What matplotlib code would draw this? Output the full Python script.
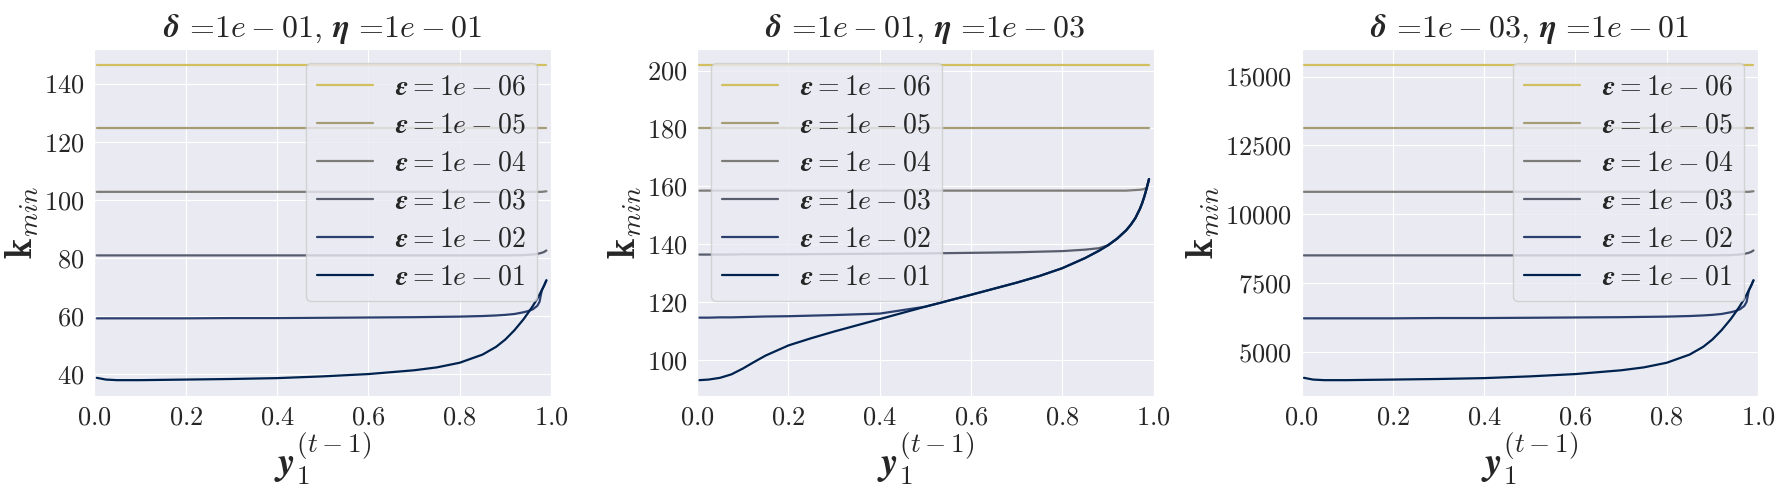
import matplotlib
matplotlib.use("Agg")
import matplotlib.pyplot as plt
import numpy as np
import seaborn as sns

# sample points along y_1^(t-1), shared by every curve
y_prev = [0.005, 0.025, 0.05, 0.075, 0.1, 0.125, 0.15, 0.2, 0.25, 0.3, 0.4, 0.5, 0.6, 0.7,
          0.75, 0.8, 0.85, 0.88, 0.9, 0.92, 0.94, 0.95, 0.96, 0.97, 0.975, 0.98, 0.985, 0.99]
n = len(y_prev)

eps_labels = ['1e-06', '1e-05', '1e-04', '1e-03', '1e-02', '1e-01']
titles = [r'$\boldsymbol{\delta}$ =$1e-01$, $\boldsymbol{\eta}$ =$1e-01$',
          r'$\boldsymbol{\delta}$ =$1e-01$, $\boldsymbol{\eta}$ =$1e-03$',
          r'$\boldsymbol{\delta}$ =$1e-03$, $\boldsymbol{\eta}$ =$1e-01$']

# delta=1e-01, eta=1e-01
k1_e6 = [146.5] * n
k1_e5 = [124.6] * n
k1_e4 = [102.7] * 26 + [102.8, 102.9]
k1_e3 = [80.8] * 19 + [80.85, 80.9, 81.0, 81.1, 81.3, 81.5, 81.7, 82.0, 82.5]
k1_e2 = [59.1, 59.1, 59.1, 59.1, 59.1, 59.1, 59.1, 59.1, 59.15, 59.2, 59.2, 59.3, 59.4, 59.5,
         59.6, 59.7, 59.9, 60.1, 60.3, 60.6, 61.2, 61.6, 62.2, 63.4, 64.8, 68.8, 70.4, 72.2]
k1_e1 = [38.6, 38.0, 37.8, 37.8, 37.8, 37.85, 37.9, 38.0, 38.1, 38.2, 38.5, 39.1, 39.9, 41.2,
         42.2, 43.8, 46.6, 49.3, 51.8, 55.0, 58.8, 61.0, 63.3, 65.9, 67.3, 68.8, 70.4, 72.2]

# delta=1e-01, eta=1e-03
k2_e6 = [202.0] * n
k2_e5 = [180.2] * n
k2_e4 = [158.5] * 21 + [158.6, 158.7, 158.8, 158.9, 159.1, 159.6, 162.5]
k2_e3 = [136.4, 136.4, 136.4, 136.4, 136.5, 136.5, 136.5, 136.5, 136.55, 136.6, 136.7, 136.8,
         137.0, 137.2, 137.4, 137.6, 138.1, 138.6, 139.6, 141.9, 144.8, 146.7, 149.0, 152.2,
         154.2, 156.6, 159.4, 162.5]
k2_e2 = [114.6, 114.6, 114.7, 114.7, 114.8, 114.9, 115.0, 115.1, 115.3, 115.5, 116.0, 118.4,
         122.5, 126.7, 129.0, 131.7, 135.2, 137.7, 139.6, 141.9, 144.8, 146.7, 149.0, 152.2,
         154.2, 156.6, 159.4, 162.5]
k2_e1 = [93.0, 93.2, 93.8, 95.0, 97.0, 99.3, 101.5, 105.0, 107.5, 109.8, 114.1, 118.4,
         122.5, 126.7, 129.0, 131.7, 135.2, 137.7, 139.6, 141.9, 144.8, 146.7, 149.0, 152.2,
         154.2, 156.6, 159.4, 162.5]

# delta=1e-03, eta=1e-01
k3_e6 = [15426] * n
k3_e5 = [13120] * n
k3_e4 = [10815] * 26 + [10826, 10836]
k3_e3 = [8508] * 19 + [8513, 8518, 8529, 8540, 8561, 8582, 8603, 8635, 8687]
k3_e2 = [6223, 6223, 6223, 6223, 6223, 6223, 6223, 6223, 6229, 6234, 6234, 6244, 6255, 6265,
         6276, 6286, 6307, 6329, 6350, 6381, 6444, 6486, 6550, 6676, 6823, 7245, 7413, 7603]
k3_e1 = [4065, 4001, 3980, 3980, 3980, 3986, 3991, 4001, 4012, 4022, 4054, 4117, 4201, 4338,
         4444, 4612, 4907, 5191, 5455, 5792, 6192, 6423, 6665, 6939, 7087, 7245, 7413, 7603]

panels = [[k1_e6, k1_e5, k1_e4, k1_e3, k1_e2, k1_e1],
          [k2_e6, k2_e5, k2_e4, k2_e3, k2_e2, k2_e1],
          [k3_e6, k3_e5, k3_e4, k3_e3, k3_e2, k3_e1]]
legend_locs = ['upper right', 'upper left', 'upper right']

sns.set_style('darkgrid')
plt.rcParams['font.family'] = 'serif'
plt.rcParams['font.serif'] = ['cmr10']
plt.rcParams['mathtext.fontset'] = 'cm'
plt.rcParams['axes.formatter.use_mathtext'] = True

colors = plt.cm.cividis(np.arange(6) / 6.0)[::-1]

fig = plt.figure(figsize=(17.83, 4.90), dpi=100)
lefts = [0.053, 0.391, 0.730]
for i in range(3):
    ax = fig.add_axes([lefts[i], 0.192, 0.256, 0.708])
    for j in range(6):
        ax.plot(y_prev, panels[i][j], color=colors[j], lw=1.6,
                label=r'$\boldsymbol{\epsilon} = ' + eps_labels[j] + '$')
    ax.set_xlim(0, 1)
    ax.set_title(titles[i], fontsize=23, pad=9)
    ax.set_xlabel(r'$\boldsymbol{y}_{\mathbf{1}}^{(t-1)}$', fontsize=28, labelpad=0)
    ax.set_ylabel(r'$\mathbf{k}_{min}$', fontsize=28, labelpad=2)
    ax.tick_params(labelsize=19)
    ax.legend(loc=legend_locs[i], fontsize=20, labelspacing=0.42)

fig.savefig('out.png', dpi=100)
